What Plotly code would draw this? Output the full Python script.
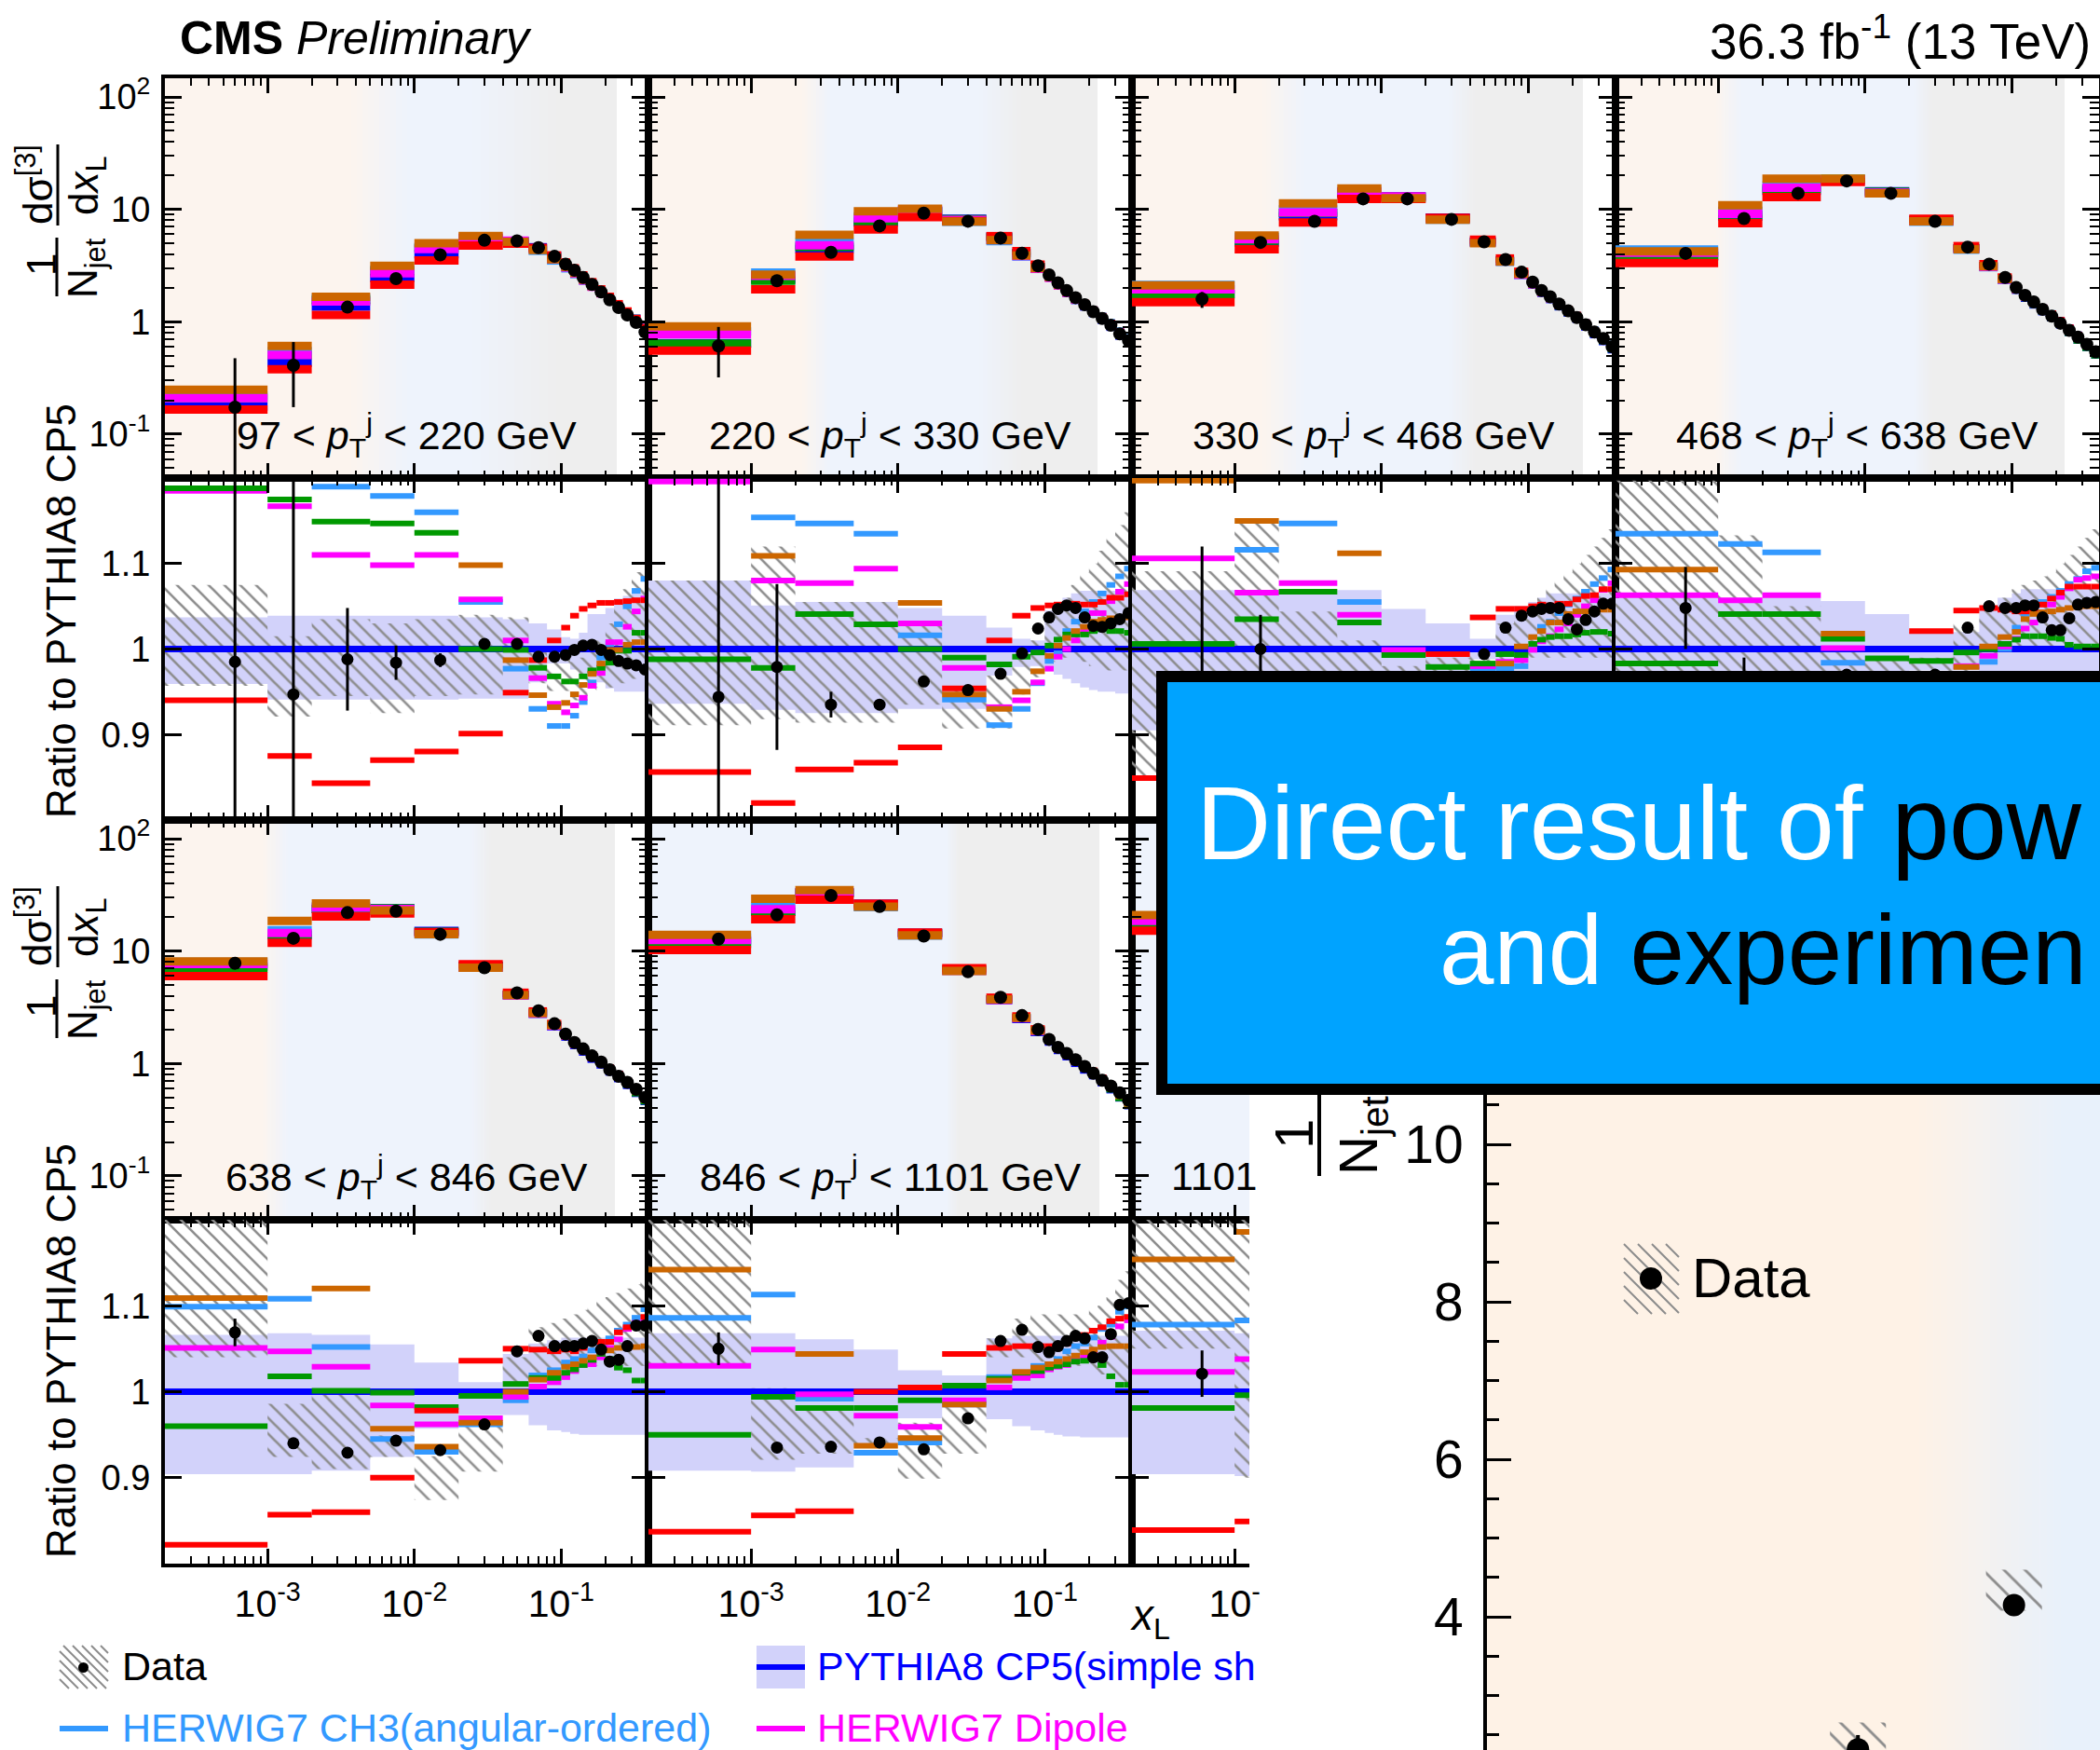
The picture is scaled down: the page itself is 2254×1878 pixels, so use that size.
import plotly.graph_objects as go

W, H = 2254, 1878
FONT = "Liberation Sans"

# ---------------- data ----------------
EDGES = [2e-4, 1e-3, 2e-3, 5e-3, 1e-2, 2e-2, 4e-2, 6e-2, 8e-2, 0.1,
         0.115, 0.132, 0.151, 0.174, 0.2, 0.229, 0.263, 0.302, 0.347, 0.398]
XC = [6e-4, 1.5e-3, 3.5e-3, 7.5e-3, 1.5e-2, 3e-2, 5e-2, 7e-2, 9e-2, 0.107,
      0.123, 0.141, 0.162, 0.187, 0.214, 0.246, 0.282, 0.324, 0.372]

X_TICKS = [1e-4, 1e-3, 1e-2, 1e-1]
X_TICK_TEXT = ["10<sup>-4</sup>", "10<sup>-3</sup>", "10<sup>-2</sup>", "10<sup>-1</sup>"]
X_TICK_TEXT_CLIPPED = ["10", "10<sup>-</sup>", "10", "10"]
Y_TICKS = [0.1, 1, 10, 100]
Y_TICK_TEXT = ["10<sup>-1</sup>", "1", "10", "10<sup>2</sup>"]
R_TICKS = [0.9, 1.0, 1.1]
R_TICK_TEXT = ["0.9", "1", "1.1"]
INSET_TICKS = [4, 6, 8, 10]
INSET_TICK_TEXT = ["4", "6", "8", "10"]

PT_BINS = [("97", "220"), ("220", "330"), ("330", "468"), ("468", "638"),
           ("638", "846"), ("846", "1101"), ("1101", None)]

# --- 97 < pT < 220 GeV
R1C1_DATA = [0.174, 0.41, 1.35, 2.42, 3.94, 5.31, 5.25, 4.56, 3.82, 3.26, 2.87, 2.48, 2.15, 1.84, 1.57, 1.34, 1.15, 0.985, 0.81]
R1C1_ERR_HI = [0.30, 0.25]
R1C1_ERR_LO = [0.17, 0.236]
R1C1_RATIO = [0.985, 0.947, 0.988, 0.984, 0.987, 1.006, 1.006, 0.991, 0.991, 0.993, 0.999, 1.004, 1.005, 0.999, 0.993, 0.986, 0.983, 0.981, 0.976]
R1C1_RATIO_ERR = [1.7, 0.57, 0.06, 0.02, 0.008]
R1C1_LB = [1.25, 1.27, 1.19, 1.179, 1.160, 1.055, 0.977, 0.930, 0.910, 0.910, 0.922, 0.938, 0.961, 0.990, 1.006, 1.029, 1.050, 1.068, 1.082]
R1C1_MG = [1.185, 1.167, 1.110, 1.098, 1.110, 1.058, 1.010, 0.966, 0.936, 0.926, 0.934, 0.943, 0.957, 0.972, 1.008, 1.008, 1.026, 1.044, 1.059]
R1C1_GR = [1.188, 1.175, 1.149, 1.147, 1.136, 1.000, 0.999, 0.978, 0.968, 0.962, 0.962, 0.968, 0.975, 0.978, 0.984, 0.998, 0.998, 1.019, 1.019]
R1C1_RD = [0.940, 0.875, 0.843, 0.870, 0.880, 0.901, 0.949, 0.987, 1.010, 1.025, 1.039, 1.047, 1.051, 1.054, 1.054, 1.055, 1.056, 1.057, 1.057]
R1C1_OG = [1.41, 1.41, 1.22, 1.28, 1.25, 1.098, 0.987, 0.946, 0.932, 0.937, 0.947, 0.958, 0.971, 0.983, 0.999, 0.999, 1.005, 1.008, 1.008]
R1C1_BAND_HI = [1.037, 1.039, 1.039, 1.039, 1.039, 1.037, 1.035, 1.030, 1.023, 1.014, 1.012, 1.019, 1.041, 1.041, 1.048, 1.059, 1.062, 1.066, 1.066]
R1C1_BAND_LO = [0.959, 0.941, 0.941, 0.941, 0.941, 0.942, 0.942, 0.961, 0.983, 0.983, 0.976, 0.969, 0.965, 0.961, 0.954, 0.950, 0.950, 0.950, 0.950]
R1C1_HATCH_HI = [1.075, 1.015, 1.035, 1.030, 1.035, 1.040, 1.037, 1.000, 0.990, 0.990, 0.985, 0.990, 1.000, 1.010, 1.030, 1.050, 1.070, 1.090, 1.100]
R1C1_HATCH_LO = [0.957, 0.921, 0.945, 0.925, 0.945, 0.947, 0.975, 0.960, 0.951, 0.951, 0.940, 0.945, 0.950, 0.955, 0.955, 0.960, 0.960, 0.965, 0.965]

# --- 220 < pT < 330 GeV
R1C2_DATA = [0.61, 2.32, 4.15, 7.13, 9.25, 7.84, 5.56, 4.07, 3.15, 2.61, 2.22, 1.90, 1.64, 1.42, 1.23, 1.07, 0.93, 0.78, 0.68]
R1C2_ERR_HI = [0.29, 0.18]
R1C2_ERR_LO = [0.29, 0.18]
R1C2_RATIO = [0.944, 0.979, 0.935, 0.935, 0.962, 0.952, 0.971, 0.995, 1.024, 1.037, 1.047, 1.051, 1.048, 1.037, 1.027, 1.026, 1.030, 1.035, 1.042]
R1C2_RATIO_ERR = [0.45, 0.097, 0.015, 0.005]
R1C2_LB = [1.27, 1.154, 1.147, 1.135, 1.016, 0.941, 0.911, 0.930, 0.960, 0.986, 0.995, 1.021, 1.032, 1.044, 1.055, 1.065, 1.075, 1.085, 1.094]
R1C2_MG = [1.196, 1.080, 1.077, 1.094, 1.030, 0.978, 0.932, 0.940, 0.961, 0.977, 0.991, 1.000, 1.010, 1.020, 1.042, 1.042, 1.056, 1.067, 1.076]
R1C2_GR = [0.988, 0.978, 1.041, 1.029, 1.000, 0.990, 0.982, 0.991, 0.996, 1.004, 1.011, 1.017, 1.017, 1.017, 1.021, 1.023, 1.021, 1.021, 1.019]
R1C2_RD = [0.856, 0.820, 0.859, 0.867, 0.885, 0.954, 1.010, 1.039, 1.048, 1.051, 1.052, 1.053, 1.053, 1.052, 1.052, 1.055, 1.060, 1.060, 1.064]
R1C2_OG = [1.41, 1.109, 1.34, 1.26, 1.054, 0.947, 0.930, 0.950, 0.974, 0.992, 1.004, 1.013, 1.021, 1.026, 1.032, 1.034, 1.036, 1.037, 1.037]
R1C2_BAND_HI = [1.080, 1.051, 1.055, 1.055, 1.048, 1.039, 1.025, 1.012, 1.010, 1.045, 1.050, 1.060, 1.065, 1.068, 1.068, 1.068, 1.068, 1.068, 1.068]
R1C2_BAND_LO = [0.936, 0.929, 0.925, 0.925, 0.930, 0.930, 0.969, 0.979, 0.980, 0.975, 0.970, 0.965, 0.960, 0.955, 0.952, 0.950, 0.950, 0.948, 0.948]
R1C2_HATCH_HI = [1.080, 1.120, 1.055, 1.055, 1.030, 0.957, 0.969, 0.990, 1.010, 1.030, 1.045, 1.060, 1.075, 1.090, 1.100, 1.115, 1.130, 1.145, 1.160]
R1C2_HATCH_LO = [0.911, 0.918, 0.914, 0.914, 0.935, 0.907, 0.907, 0.947, 0.967, 0.980, 0.985, 0.990, 0.990, 0.985, 0.980, 0.975, 0.975, 0.975, 0.975]

# --- 330 < pT < 468 GeV
R1C3_DATA = [1.60, 5.08, 7.83, 12.4, 12.4, 8.15, 5.15, 3.58, 2.76, 2.25, 1.90, 1.67, 1.44, 1.25, 1.09, 0.94, 0.81, 0.71, 0.60]
R1C3_ERR_HI = [0.24]
R1C3_ERR_LO = [0.27]
R1C3_RATIO = [0.91, 1.0, 0.90, 0.90, 0.95, 0.965, 0.994, 1.025, 1.039, 1.044, 1.047, 1.048, 1.048, 1.035, 1.023, 1.034, 1.044, 1.053, 1.053]
R1C3_RATIO_ERR = [0.21, 0.04, 0.02]
R1C3_LB = [1.21, 1.116, 1.147, 1.055, 0.970, 0.960, 0.977, 0.977, 0.980, 1.000, 1.026, 1.032, 1.042, 1.052, 1.059, 1.067, 1.076, 1.083, 1.093]
R1C3_MG = [1.106, 1.066, 1.077, 1.040, 0.999, 0.970, 0.980, 0.985, 0.987, 0.999, 1.009, 1.015, 1.023, 1.030, 1.040, 1.050, 1.057, 1.069, 1.077]
R1C3_GR = [1.006, 1.035, 1.067, 1.031, 0.993, 0.979, 0.983, 0.994, 0.993, 1.006, 1.011, 1.014, 1.015, 1.015, 1.017, 1.019, 1.020, 1.020, 1.018]
R1C3_RD = [0.849, 0.870, 0.880, 0.900, 0.950, 0.994, 1.037, 1.047, 1.047, 1.050, 1.052, 1.051, 1.053, 1.053, 1.058, 1.062, 1.063, 1.070, 1.070]
R1C3_OG = [1.197, 1.150, 1.30, 1.112, 0.960, 0.960, 0.965, 0.983, 1.003, 1.014, 1.021, 1.031, 1.031, 1.041, 1.044, 1.044, 1.044, 1.046, 1.046]
R1C3_BAND_HI = [1.069, 1.069, 1.069, 1.069, 1.047, 1.030, 1.012, 1.040, 1.050, 1.055, 1.060, 1.065, 1.065, 1.065, 1.065, 1.065, 1.065, 1.065, 1.065]
R1C3_BAND_LO = [0.905, 0.905, 0.920, 0.930, 0.950, 0.970, 0.988, 0.970, 0.960, 0.955, 0.950, 0.950, 0.950, 0.950, 0.950, 0.950, 0.950, 0.950, 0.950]
R1C3_HATCH_HI = [1.091, 1.149, 1.044, 1.010, 0.980, 0.990, 1.000, 1.030, 1.040, 1.050, 1.060, 1.070, 1.080, 1.090, 1.100, 1.110, 1.120, 1.130, 1.140]
R1C3_HATCH_LO = [0.850, 0.900, 0.900, 0.920, 0.930, 0.940, 0.950, 0.970, 0.980, 0.990, 0.990, 0.990, 0.990, 0.990, 0.990, 0.990, 0.990, 0.990, 0.990]

# --- 468 < pT < 638 GeV
R1C4_DATA = [4.06, 8.3, 13.9, 17.9, 13.9, 7.83, 4.62, 3.26, 2.48, 2.02, 1.72, 1.50, 1.29, 1.12, 0.97, 0.84, 0.73, 0.63, 0.54]
R1C4_ERR_HI = []
R1C4_ERR_LO = []
R1C4_RATIO = [1.048, 0.96, 0.95, 0.97, 0.96, 0.97, 1.025, 1.050, 1.048, 1.048, 1.051, 1.051, 1.037, 1.022, 1.022, 1.036, 1.052, 1.054, 1.055]
R1C4_RATIO_ERR = [0.048, 0.03, 0.01]
R1C4_LB = [1.135, 1.123, 1.113, 0.984, 0.960, 0.960, 0.970, 0.985, 1.000, 1.025, 1.041, 1.048, 1.055, 1.061, 1.068, 1.076, 1.082, 1.091, 1.095]
R1C4_MG = [1.063, 1.057, 1.063, 1.001, 0.970, 0.970, 0.980, 0.992, 1.003, 1.012, 1.024, 1.031, 1.036, 1.052, 1.061, 1.071, 1.081, 1.083, 1.085]
R1C4_GR = [0.983, 1.041, 1.041, 1.012, 0.989, 0.986, 0.996, 1.000, 1.006, 1.011, 1.015, 1.015, 1.015, 1.013, 1.012, 1.005, 1.003, 1.003, 1.003]
R1C4_RD = [0.860, 0.870, 0.880, 0.950, 0.960, 1.021, 1.045, 1.048, 1.046, 1.044, 1.044, 1.044, 1.052, 1.059, 1.066, 1.073, 1.073, 1.073, 1.073]
R1C4_OG = [1.093, 1.26, 1.28, 1.018, 0.960, 0.970, 0.979, 1.003, 1.014, 1.020, 1.035, 1.041, 1.043, 1.044, 1.046, 1.048, 1.049, 1.050, 1.050]
R1C4_BAND_HI = [1.060, 1.060, 1.060, 1.056, 1.041, 1.020, 1.020, 1.050, 1.060, 1.065, 1.070, 1.070, 1.070, 1.070, 1.070, 1.070, 1.070, 1.070, 1.070]
R1C4_BAND_LO = [0.940, 0.940, 0.940, 0.945, 0.960, 0.975, 0.975, 0.960, 0.955, 0.950, 0.950, 0.950, 0.950, 0.950, 0.950, 0.950, 0.950, 0.950, 0.950]
R1C4_HATCH_HI = [1.197, 1.133, 1.050, 1.000, 0.990, 0.990, 1.030, 1.050, 1.060, 1.070, 1.075, 1.080, 1.085, 1.090, 1.100, 1.110, 1.120, 1.130, 1.140]
R1C4_HATCH_LO = [0.900, 0.960, 0.940, 0.940, 0.940, 0.950, 0.970, 0.990, 1.000, 1.000, 1.000, 1.000, 1.000, 1.000, 1.000, 1.000, 1.000, 1.000, 1.000]

# --- 638 < pT < 846 GeV
R2C1_DATA = [7.8, 13.0, 22.0, 22.7, 14.1, 7.11, 4.25, 2.95, 2.26, 1.83, 1.54, 1.35, 1.17, 1.03, 0.88, 0.77, 0.68, 0.59, 0.50]
R2C1_ERR_HI = []
R2C1_ERR_LO = []
R2C1_RATIO = [1.069, 0.940, 0.929, 0.943, 0.932, 0.962, 1.047, 1.065, 1.053, 1.053, 1.053, 1.056, 1.059, 1.049, 1.035, 1.037, 1.053, 1.077, 1.077]
R2C1_RATIO_ERR = [0.016, 0.005]
R2C1_LB = [1.099, 1.108, 1.052, 0.945, 0.930, 0.962, 0.990, 1.019, 1.025, 1.034, 1.038, 1.041, 1.048, 1.056, 1.062, 1.071, 1.078, 1.086, 1.096]
R2C1_MG = [1.051, 1.047, 1.029, 0.984, 0.962, 0.969, 0.994, 1.006, 1.011, 1.017, 1.024, 1.031, 1.032, 1.040, 1.051, 1.061, 1.073, 1.080, 1.083]
R2C1_GR = [0.960, 1.018, 1.001, 0.999, 0.982, 0.995, 1.009, 1.016, 1.016, 1.022, 1.026, 1.031, 1.037, 1.044, 1.038, 1.028, 1.025, 1.013, 1.013]
R2C1_RD = [0.822, 0.857, 0.860, 0.900, 0.978, 1.036, 1.050, 1.049, 1.047, 1.049, 1.047, 1.051, 1.060, 1.058, 1.058, 1.069, 1.075, 1.078, 1.087]
R2C1_OG = [1.109, 1.34, 1.120, 0.957, 0.936, 0.964, 1.000, 1.014, 1.022, 1.029, 1.032, 1.036, 1.040, 1.047, 1.048, 1.051, 1.052, 1.052, 1.053]
R2C1_BAND_HI = [1.066, 1.068, 1.066, 1.055, 1.034, 1.011, 1.044, 1.056, 1.060, 1.063, 1.063, 1.063, 1.063, 1.063, 1.063, 1.063, 1.063, 1.063, 1.063]
R2C1_BAND_LO = [0.904, 0.904, 0.908, 0.924, 0.957, 0.973, 0.973, 0.961, 0.955, 0.953, 0.951, 0.950, 0.950, 0.950, 0.950, 0.950, 0.950, 0.950, 0.950]
R2C1_HATCH_HI = [1.25, 0.986, 0.997, 0.949, 0.925, 0.960, 1.040, 1.075, 1.080, 1.085, 1.090, 1.095, 1.100, 1.105, 1.110, 1.115, 1.120, 1.125, 1.130]
R2C1_HATCH_LO = [1.040, 0.924, 0.910, 0.924, 0.874, 0.907, 1.011, 1.020, 1.020, 1.022, 1.025, 1.028, 1.030, 1.030, 1.030, 1.030, 1.030, 1.030, 1.030]

# --- 846 < pT < 1101 GeV
R2C2_DATA = [12.8, 21.0, 31.2, 24.9, 13.6, 6.55, 3.88, 2.67, 2.01, 1.64, 1.39, 1.23, 1.08, 0.94, 0.82, 0.71, 0.63, 0.55, 0.47]
R2C2_ERR_HI = []
R2C2_ERR_LO = []
R2C2_RATIO = [1.050, 0.935, 0.936, 0.941, 0.933, 0.969, 1.059, 1.072, 1.052, 1.046, 1.053, 1.059, 1.065, 1.062, 1.040, 1.040, 1.067, 1.101, 1.103]
R2C2_RATIO_ERR = [0.019, 0.005]
R2C2_LB = [1.086, 1.113, 0.992, 0.929, 0.941, 0.987, 1.017, 1.020, 1.030, 1.032, 1.038, 1.047, 1.053, 1.056, 1.063, 1.073, 1.078, 1.093, 1.099]
R2C2_MG = [1.030, 1.049, 0.997, 0.972, 0.959, 0.990, 1.005, 1.016, 1.019, 1.026, 1.029, 1.031, 1.037, 1.041, 1.046, 1.057, 1.064, 1.076, 1.083]
R2C2_GR = [0.950, 0.994, 0.981, 0.981, 0.990, 1.007, 1.015, 1.022, 1.024, 1.028, 1.030, 1.032, 1.035, 1.036, 1.038, 1.031, 1.018, 1.008, 1.008]
R2C2_RD = [0.837, 0.856, 0.861, 1.000, 1.005, 1.044, 1.051, 1.053, 1.053, 1.053, 1.052, 1.056, 1.064, 1.066, 1.071, 1.075, 1.082, 1.085, 1.087]
R2C2_OG = [1.142, 1.30, 1.044, 0.937, 0.946, 0.985, 1.013, 1.023, 1.028, 1.032, 1.035, 1.038, 1.042, 1.046, 1.049, 1.052, 1.053, 1.053, 1.053]
R2C2_BAND_HI = [1.068, 1.068, 1.061, 1.049, 1.025, 1.019, 1.062, 1.065, 1.065, 1.065, 1.065, 1.065, 1.065, 1.065, 1.065, 1.065, 1.065, 1.065, 1.065]
R2C2_BAND_LO = [0.908, 0.907, 0.912, 0.939, 0.969, 0.981, 0.968, 0.960, 0.955, 0.952, 0.950, 0.948, 0.948, 0.947, 0.947, 0.947, 0.947, 0.947, 0.947]
R2C2_HATCH_HI = [1.25, 1.004, 0.982, 0.946, 0.964, 0.982, 1.062, 1.085, 1.090, 1.090, 1.090, 1.090, 1.090, 1.090, 1.095, 1.100, 1.110, 1.130, 1.140]
R2C2_HATCH_LO = [1.033, 0.921, 0.928, 0.935, 0.899, 0.928, 1.040, 1.040, 1.035, 1.030, 1.030, 1.030, 1.030, 1.030, 1.025, 1.020, 1.015, 1.011, 1.011]

# --- 1101 < pT (only the first bins are visible)
R2C3_DATA = [18.5, 30.0, 40.0]
R2C3_ERR_HI = []
R2C3_ERR_LO = []
R2C3_RATIO = [1.021, 0.95, 0.95]
R2C3_RATIO_ERR = [0.027]
R2C3_LB = [1.078, 1.083, 1.10]
R2C3_MG = [1.023, 1.038, 1.03]
R2C3_GR = [0.981, 0.996, 1.0]
R2C3_RD = [0.839, 0.849, 0.86]
R2C3_OG = [1.154, 1.186, 1.10]
R2C3_BAND_HI = [1.071, 1.068, 1.06]
R2C3_BAND_LO = [0.904, 0.902, 0.91]
R2C3_HATCH_HI = [1.25, 1.25, 1.2]
R2C3_HATCH_LO = [1.05, 0.90, 0.90]

# zoomed inset (repeats the 220-330 GeV data)
INSET_HATCH_LO = [None, 2.10, 4.08]
INSET_HATCH_HI = [None, 2.66, 4.60]

# ---------------- style ----------------
C_OG, C_LB, C_MG, C_BL, C_GR, C_RD = "#CC6600", "#3399FF", "#FF00FF", "#0000FF", "#009900", "#FF0000"
C_BAND, C_HATCH = "#D2D2FA", "#8C8C8C"
BG_O, BG_B, BG_G = "#FCF4EE", "#EEF3FC", "#EEEEEE"
IN_O, IN_B = "#FEF2E6", "#E8F1FB"

COL_LEFT = [177, 696, 1215, 1734]
COL_W = 519
CLIP_RIGHT = 1341
ROW_UP = [(84, 513), (880, 1309)]
ROW_RATIO = [(513, 880), (1309, 1678)]
XRANGE = [-3.699, -0.406]
XRANGE_CLIP = [-3.699, -3.699 + (CLIP_RIGHT - 1215) / 157.6]
YRANGE_UP = [-1.39, 2.166]
YRANGE_R = [0.8, 1.2]

BG_STOPS = [
    [(0, BG_O), (200, BG_O), (260, BG_B), (330, BG_B), (420, BG_G), (485, BG_G)],
    [(0, BG_O), (165, BG_O), (195, BG_B), (355, BG_B), (400, BG_G), (482, BG_G)],
    [(0, BG_O), (140, BG_O), (185, BG_B), (340, BG_B), (368, BG_G), (484, BG_G)],
    [(0, BG_O), (108, BG_O), (135, BG_B), (320, BG_B), (340, BG_G), (482, BG_G)],
    [(0, BG_O), (105, BG_O), (132, BG_B), (328, BG_B), (350, BG_G), (483, BG_G)],
    [(0, BG_B), (320, BG_B), (333, BG_G), (484, BG_G)],
    [(0, BG_B), (126, BG_B)],
]

PANELS = [
    dict(row=0, col=0, data=R1C1_DATA, ehi=R1C1_ERR_HI, elo=R1C1_ERR_LO, ratio=R1C1_RATIO, rerr=R1C1_RATIO_ERR,
         lb=R1C1_LB, mg=R1C1_MG, gr=R1C1_GR, rd=R1C1_RD, og=R1C1_OG,
         blo=R1C1_BAND_LO, bhi=R1C1_BAND_HI, hlo=R1C1_HATCH_LO, hhi=R1C1_HATCH_HI),
    dict(row=0, col=1, data=R1C2_DATA, ehi=R1C2_ERR_HI, elo=R1C2_ERR_LO, ratio=R1C2_RATIO, rerr=R1C2_RATIO_ERR,
         lb=R1C2_LB, mg=R1C2_MG, gr=R1C2_GR, rd=R1C2_RD, og=R1C2_OG,
         blo=R1C2_BAND_LO, bhi=R1C2_BAND_HI, hlo=R1C2_HATCH_LO, hhi=R1C2_HATCH_HI),
    dict(row=0, col=2, data=R1C3_DATA, ehi=R1C3_ERR_HI, elo=R1C3_ERR_LO, ratio=R1C3_RATIO, rerr=R1C3_RATIO_ERR,
         lb=R1C3_LB, mg=R1C3_MG, gr=R1C3_GR, rd=R1C3_RD, og=R1C3_OG,
         blo=R1C3_BAND_LO, bhi=R1C3_BAND_HI, hlo=R1C3_HATCH_LO, hhi=R1C3_HATCH_HI),
    dict(row=0, col=3, data=R1C4_DATA, ehi=R1C4_ERR_HI, elo=R1C4_ERR_LO, ratio=R1C4_RATIO, rerr=R1C4_RATIO_ERR,
         lb=R1C4_LB, mg=R1C4_MG, gr=R1C4_GR, rd=R1C4_RD, og=R1C4_OG,
         blo=R1C4_BAND_LO, bhi=R1C4_BAND_HI, hlo=R1C4_HATCH_LO, hhi=R1C4_HATCH_HI),
    dict(row=1, col=0, data=R2C1_DATA, ehi=R2C1_ERR_HI, elo=R2C1_ERR_LO, ratio=R2C1_RATIO, rerr=R2C1_RATIO_ERR,
         lb=R2C1_LB, mg=R2C1_MG, gr=R2C1_GR, rd=R2C1_RD, og=R2C1_OG,
         blo=R2C1_BAND_LO, bhi=R2C1_BAND_HI, hlo=R2C1_HATCH_LO, hhi=R2C1_HATCH_HI),
    dict(row=1, col=1, data=R2C2_DATA, ehi=R2C2_ERR_HI, elo=R2C2_ERR_LO, ratio=R2C2_RATIO, rerr=R2C2_RATIO_ERR,
         lb=R2C2_LB, mg=R2C2_MG, gr=R2C2_GR, rd=R2C2_RD, og=R2C2_OG,
         blo=R2C2_BAND_LO, bhi=R2C2_BAND_HI, hlo=R2C2_HATCH_LO, hhi=R2C2_HATCH_HI),
    dict(row=1, col=2, data=R2C3_DATA, ehi=R2C3_ERR_HI, elo=R2C3_ERR_LO, ratio=R2C3_RATIO, rerr=R2C3_RATIO_ERR,
         lb=R2C3_LB, mg=R2C3_MG, gr=R2C3_GR, rd=R2C3_RD, og=R2C3_OG,
         blo=R2C3_BAND_LO, bhi=R2C3_BAND_HI, hlo=R2C3_HATCH_LO, hhi=R2C3_HATCH_HI),
]

MINOR_X = [m * 10.0 ** e for e in range(-4, 0) for m in range(2, 10)]
MINOR_Y = [m * 10.0 ** e for e in range(-2, 3) for m in range(2, 10)]


def fx(px):
    return px / W


def fy(py):
    return 1.0 - py / H


def pad(vals, n):
    vals = list(vals)[:n]
    return vals + [0.0] * (n - len(vals))


def hseg_xy(vals):
    xs, ys = [], []
    for i, v in enumerate(vals):
        xs += [EDGES[i], EDGES[i + 1], None]
        ys += [v, v, None]
    return xs, ys


def box_xy(lo, hi):
    xs, ys = [], []
    for i, (a, b) in enumerate(zip(lo, hi)):
        xs += [EDGES[i], EDGES[i + 1], EDGES[i + 1], EDGES[i], EDGES[i], None]
        ys += [a, a, b, b, a, None]
    return xs, ys


def hex2rgb(h):
    h = h.lstrip("#")
    return tuple(int(h[i:i + 2], 16) for i in (0, 2, 4))


def mix(c1, c2, t):
    a, b = hex2rgb(c1), hex2rgb(c2)
    return "rgb(%d,%d,%d)" % tuple(round(a[i] + (b[i] - a[i]) * t) for i in range(3))


def bg_shapes(x_left, y0, y1, stops, steps=10):
    out = []
    for (o1, c1), (o2, c2) in zip(stops[:-1], stops[1:]):
        if c1 == c2:
            out.append(dict(type="rect", xref="paper", yref="paper", layer="below",
                            x0=fx(x_left + o1), x1=fx(x_left + o2), y0=fy(y1), y1=fy(y0),
                            fillcolor=c1, line=dict(width=0)))
        else:
            for s in range(steps):
                a = o1 + (o2 - o1) * s / steps
                b = o1 + (o2 - o1) * (s + 1) / steps
                out.append(dict(type="rect", xref="paper", yref="paper", layer="below",
                                x0=fx(x_left + a), x1=fx(x_left + b + 0.5), y0=fy(y1), y1=fy(y0),
                                fillcolor=mix(c1, c2, (s + 0.5) / steps), line=dict(width=0)))
    return out


def hatch_lines(x0, y0, x1, y1, step=10, color=C_HATCH, width=2):
    out = []
    hgt = y1 - y0
    c = x0 - hgt
    while c < x1:
        xa, xb = max(x0, c), min(x1, c + hgt)
        if xb > xa:
            out.append(dict(type="line", xref="paper", yref="paper", layer="above",
                            x0=fx(xa), y0=fy(y0 + xa - c), x1=fx(xb), y1=fy(y0 + xb - c),
                            line=dict(color=color, width=width)))
        c += step
    return out


def ann(text, x, y, size, color="black", xanchor="center", yanchor="middle", angle=0):
    return dict(text=text, x=fx(x), y=fy(y), xref="paper", yref="paper", showarrow=False,
                xanchor=xanchor, yanchor=yanchor, textangle=angle,
                font=dict(family=FONT, size=size, color=color))


def axname(i):
    return ("x" if i == 1 else "x%d" % i), ("y" if i == 1 else "y%d" % i)


fig = go.Figure()
layout = {}
shapes = []
annotations = []

TICKFONT = dict(family=FONT, size=38, color="black")

for k, p in enumerate(PANELS):
    row, col = p["row"], p["col"]
    n = len(p["data"])
    left = COL_LEFT[col]
    clipped = (k == 6)
    right = CLIP_RIGHT if clipped else left + COL_W
    xr = XRANGE_CLIP if clipped else XRANGE
    iu, ir = 2 * k + 1, 2 * k + 2
    xu, yu = axname(iu)
    xrr, yrr = axname(ir)
    bottom_row = (row == 1)

    common_x = dict(type="log", domain=[fx(left), fx(right)], range=xr, showgrid=False, zeroline=False,
                    showline=True, linecolor="black", linewidth=4, mirror="allticks",
                    ticks="inside", ticklen=16, tickwidth=3, tickcolor="black",
                    tickmode="array", tickvals=X_TICKS, layer="above traces",
                    minor=dict(tickmode="array", tickvals=MINOR_X, ticks="inside", ticklen=8,
                               tickwidth=2, tickcolor="black", showgrid=False),
                    tickfont=dict(family=FONT, size=41, color="black"))
    layout["xaxis" + ("" if iu == 1 else str(iu))] = dict(common_x, anchor=yu, showticklabels=False,
                                                          ticktext=X_TICK_TEXT)
    layout["xaxis" + str(ir)] = dict(common_x, anchor=yrr, showticklabels=bottom_row,
                                     ticktext=X_TICK_TEXT_CLIPPED if clipped else X_TICK_TEXT,
                                     ticklabelstandoff=4)
    up0, up1 = ROW_UP[row]
    r0, r1 = ROW_RATIO[row]
    layout["yaxis" + ("" if iu == 1 else str(iu))] = dict(
        type="log", domain=[fy(up1), fy(up0)], range=YRANGE_UP, anchor=xu, showgrid=False, zeroline=False,
        showline=True, linecolor="black", linewidth=4, mirror=(False if clipped else "allticks"),
        ticks="inside", ticklen=18, tickwidth=3, tickcolor="black", layer="above traces",
        tickmode="array", tickvals=Y_TICKS, ticktext=Y_TICK_TEXT, showticklabels=(col == 0),
        minor=dict(tickmode="array", tickvals=MINOR_Y, ticks="inside", ticklen=10, tickwidth=2,
                   tickcolor="black", showgrid=False),
        tickfont=TICKFONT, ticklabelstandoff=4)
    layout["yaxis" + str(ir)] = dict(
        domain=[fy(r1), fy(r0)], range=YRANGE_R, anchor=xrr, showgrid=False, zeroline=False,
        showline=True, linecolor="black", linewidth=4, mirror=(False if clipped else "allticks"),
        ticks="inside", ticklen=18, tickwidth=3, tickcolor="black", layer="above traces",
        tickmode="array", tickvals=R_TICKS, ticktext=R_TICK_TEXT, showticklabels=(col == 0),
        tickfont=TICKFONT, ticklabelstandoff=4)

    # upper-panel background regions
    shapes += bg_shapes(left, up0, up1, BG_STOPS[k])

    # ---- upper panel: predictions drawn at (PYTHIA8 value) x (their ratio)
    p8 = [d / r for d, r in zip(p["data"], p["ratio"])]
    models = [(p8, C_BL), ] + [([a * m for a, m in zip(p8, p[key])], c)
                              for key, c in (("gr", C_GR), ("lb", C_LB), ("mg", C_MG), ("rd", C_RD), ("og", C_OG))]
    for vals, c in models:
        xs, ys = hseg_xy(vals)
        fig.add_trace(go.Scatter(x=xs, y=ys, mode="lines", line=dict(color=c, width=9),
                                 xaxis=xu, yaxis=yu, hoverinfo="skip"))
    fig.add_trace(go.Scatter(x=XC[:n], y=p["data"], mode="markers", xaxis=xu, yaxis=yu,
                             marker=dict(color="black", size=14),
                             error_y=dict(type="data", symmetric=False, array=pad(p["ehi"], n),
                                          arrayminus=pad(p["elo"], n), thickness=3, width=0, color="black")))

    # ---- ratio panel
    bx, by = box_xy(p["blo"], p["bhi"])
    fig.add_trace(go.Scatter(x=bx, y=by, mode="lines", fill="toself", fillcolor=C_BAND,
                             line=dict(width=0), xaxis=xrr, yaxis=yrr, hoverinfo="skip"))
    hx, hy = box_xy(p["hlo"], p["hhi"])
    fig.add_trace(go.Scatter(x=hx, y=hy, mode="lines", fill="toself", fillcolor="rgba(0,0,0,0)",
                             fillpattern=dict(shape="\\", fgcolor=C_HATCH, bgcolor="rgba(0,0,0,0)",
                                              size=12, solidity=0.22),
                             line=dict(width=0), xaxis=xrr, yaxis=yrr, hoverinfo="skip"))
    fig.add_trace(go.Scatter(x=[EDGES[0], EDGES[-1]], y=[1.0, 1.0], mode="lines",
                             line=dict(color=C_BL, width=7), xaxis=xrr, yaxis=yrr, hoverinfo="skip"))
    for key, c in (("lb", C_LB), ("mg", C_MG), ("gr", C_GR), ("rd", C_RD), ("og", C_OG)):
        xs, ys = hseg_xy(p[key])
        fig.add_trace(go.Scatter(x=xs, y=ys, mode="lines", line=dict(color=c, width=6),
                                 xaxis=xrr, yaxis=yrr, hoverinfo="skip"))
    fig.add_trace(go.Scatter(x=XC[:n], y=p["ratio"], mode="markers", xaxis=xrr, yaxis=yrr,
                             marker=dict(color="black", size=13),
                             error_y=dict(type="data", array=pad(p["rerr"], n), thickness=3, width=0,
                                          color="black")))

    # pT label
    lo, hi = PT_BINS[k]
    if hi is None:
        annotations.append(ann(lo, 1255, up1 - 47, 43, xanchor="left"))
    else:
        annotations.append(ann("%s < <i>p</i><sub>T</sub><sup>j</sup> < %s GeV" % (lo, hi),
                               left + COL_W / 2, up1 - 46, 43))

# ---------------- inset (zoom of the 220-330 GeV panel) ----------------
layout["xaxis15"] = dict(type="log", domain=[fx(1596), 1.0], range=[-3.699, -2.253], anchor="y15",
                         visible=False)
layout["yaxis15"] = dict(domain=[0.0, fy(1175)], range=[2.31, 10.63], anchor="x15", showgrid=False,
                         zeroline=False, showline=True, linecolor="black", linewidth=4, mirror=False,
                         ticks="inside", ticklen=26, tickwidth=3, tickcolor="black",
                         tickmode="array", tickvals=INSET_TICKS, ticktext=INSET_TICK_TEXT,
                         minor=dict(dtick=0.5, ticks="inside", ticklen=13, tickwidth=3, tickcolor="black",
                                    showgrid=False),
                         tickfont=dict(family=FONT, size=57, color="black"), ticklabelstandoff=10)
shapes += bg_shapes(1596, 1175, 1878, [(0, IN_O), (464, IN_O), (616, IN_B), (660, IN_B)], steps=20)
ihx, ihy = [], []
for i, (a, b) in enumerate(zip(INSET_HATCH_LO, INSET_HATCH_HI)):
    if a is None:
        continue
    ihx += [XC[i] * 10 ** -0.066, XC[i] * 10 ** 0.066, XC[i] * 10 ** 0.066, XC[i] * 10 ** -0.066,
            XC[i] * 10 ** -0.066, None]
    ihy += [a, a, b, b, a, None]
fig.add_trace(go.Scatter(x=ihx, y=ihy, mode="lines", fill="toself", fillcolor="rgba(0,0,0,0)",
                         fillpattern=dict(shape="\\", fgcolor=C_HATCH, bgcolor="rgba(0,0,0,0)",
                                          size=16, solidity=0.18),
                         line=dict(width=0), xaxis="x15", yaxis="y15", hoverinfo="skip"))
n2 = len(R1C2_DATA)
fig.add_trace(go.Scatter(x=XC, y=R1C2_DATA, mode="markers", xaxis="x15", yaxis="y15",
                         marker=dict(color="black", size=24),
                         error_y=dict(type="data", symmetric=False, array=pad(R1C2_ERR_HI, n2),
                                      arrayminus=pad(R1C2_ERR_LO, n2), thickness=4, width=0, color="black")))

# inset legend + y label
shapes += hatch_lines(1743, 1335, 1802, 1410, step=15, width=2)
shapes.append(dict(type="circle", xref="paper", yref="paper", layer="above",
                   x0=fx(1760), x1=fx(1784), y0=fy(1384), y1=fy(1360), fillcolor="black",
                   line=dict(width=0)))
annotations.append(ann("Data", 1814, 1371, 60, xanchor="left"))
shapes.append(dict(type="line", xref="paper", yref="paper", layer="above", x0=fx(1416), x1=fx(1416),
                   y0=fy(1175), y1=fy(1262), line=dict(color="black", width=4)))
annotations.append(ann("1", 1388, 1217, 58, angle=-90))
annotations.append(ann("N<sub>jet</sub>", 1462, 1219, 58, angle=-90))

# ---------------- axis titles ----------------
for dy in (0, 796):
    annotations.append(ann("1", 44, 284 + dy, 44, angle=-90))
    annotations.append(ann("N<sub>jet</sub>", 92, 287 + dy, 44, angle=-90))
    annotations.append(ann("dσ<sup>[3]</sup>", 37, 198 + dy, 44, angle=-90))
    annotations.append(ann("d<i>x</i><sub>L</sub>", 93, 199 + dy, 44, angle=-90))
    shapes.append(dict(type="line", xref="paper", yref="paper", layer="above", x0=fx(61), x1=fx(61),
                       y0=fy(255 + dy), y1=fy(318 + dy), line=dict(color="black", width=3)))
    shapes.append(dict(type="line", xref="paper", yref="paper", layer="above", x0=fx(62), x1=fx(62),
                       y0=fy(155 + dy), y1=fy(242 + dy), line=dict(color="black", width=3)))
annotations.append(ann("Ratio to PYTHIA8 CP5", 65, 656, 44, angle=-90))
annotations.append(ann("Ratio to PYTHIA8 CP5", 65, 1450, 44, angle=-90))
annotations.append(ann("<i>x</i><sub>L</sub>", 1234, 1736, 46))

# ---------------- header ----------------
annotations.append(ann("<b>CMS</b> <i>Preliminary</i>", 191, 41, 50, xanchor="left"))
annotations.append(ann("36.3 fb<sup>-1</sup> (13 TeV)", 2246, 40, 53, xanchor="right"))

# ---------------- legend ----------------
shapes += hatch_lines(64, 1766, 116, 1812, step=10, width=2)
shapes.append(dict(type="circle", xref="paper", yref="paper", layer="above",
                   x0=fx(84), x1=fx(95), y0=fy(1795), y1=fy(1784), fillcolor="black", line=dict(width=0)))
annotations.append(ann("Data", 129, 1788, 43, xanchor="left"))
shapes.append(dict(type="rect", xref="paper", yref="paper", layer="above",
                   x0=fx(812), x1=fx(864), y0=fy(1812), y1=fy(1766), fillcolor=C_BAND, line=dict(width=0)))
shapes.append(dict(type="line", xref="paper", yref="paper", layer="above",
                   x0=fx(812), x1=fx(864), y0=fy(1789), y1=fy(1789), line=dict(color=C_BL, width=6)))
annotations.append(ann("PYTHIA8 CP5(simple sh", 875, 1788, 43, color=C_BL, xanchor="left"))
shapes.append(dict(type="line", xref="paper", yref="paper", layer="above",
                   x0=fx(64), x1=fx(116), y0=fy(1855), y1=fy(1855), line=dict(color=C_LB, width=6)))
annotations.append(ann("HERWIG7 CH3(angular-ordered)", 129, 1854, 43, color=C_LB, xanchor="left"))
shapes.append(dict(type="line", xref="paper", yref="paper", layer="above",
                   x0=fx(812), x1=fx(864), y0=fy(1855), y1=fy(1855), line=dict(color=C_MG, width=6)))
annotations.append(ann("HERWIG7 Dipole", 875, 1854, 43, color=C_MG, xanchor="left"))

# ---------------- overlay box ----------------
shapes.append(dict(type="rect", xref="paper", yref="paper", layer="above",
                   x0=fx(1247), x1=fx(2320), y0=fy(1169), y1=fy(726), fillcolor="#00A3FF",
                   line=dict(color="black", width=12)))
annotations.append(ann("Direct result of <span style='color:black'>pow</span>", 1282, 884, 111,
                       color="white", xanchor="left"))
annotations.append(ann("and <span style='color:black'>experimen</span>", 1543, 1019, 105,
                       color="white", xanchor="left"))

fig.update_layout(width=W, height=H, margin=dict(l=0, r=0, t=0, b=0), autosize=False,
                  paper_bgcolor="white", plot_bgcolor="rgba(0,0,0,0)", showlegend=False,
                  template="none", shapes=shapes, annotations=annotations,
                  font=dict(family=FONT, color="black"), **layout)

fig.write_html("out.html", config={"displayModeBar": False},
               post_script="document.body.style.margin='0';")
